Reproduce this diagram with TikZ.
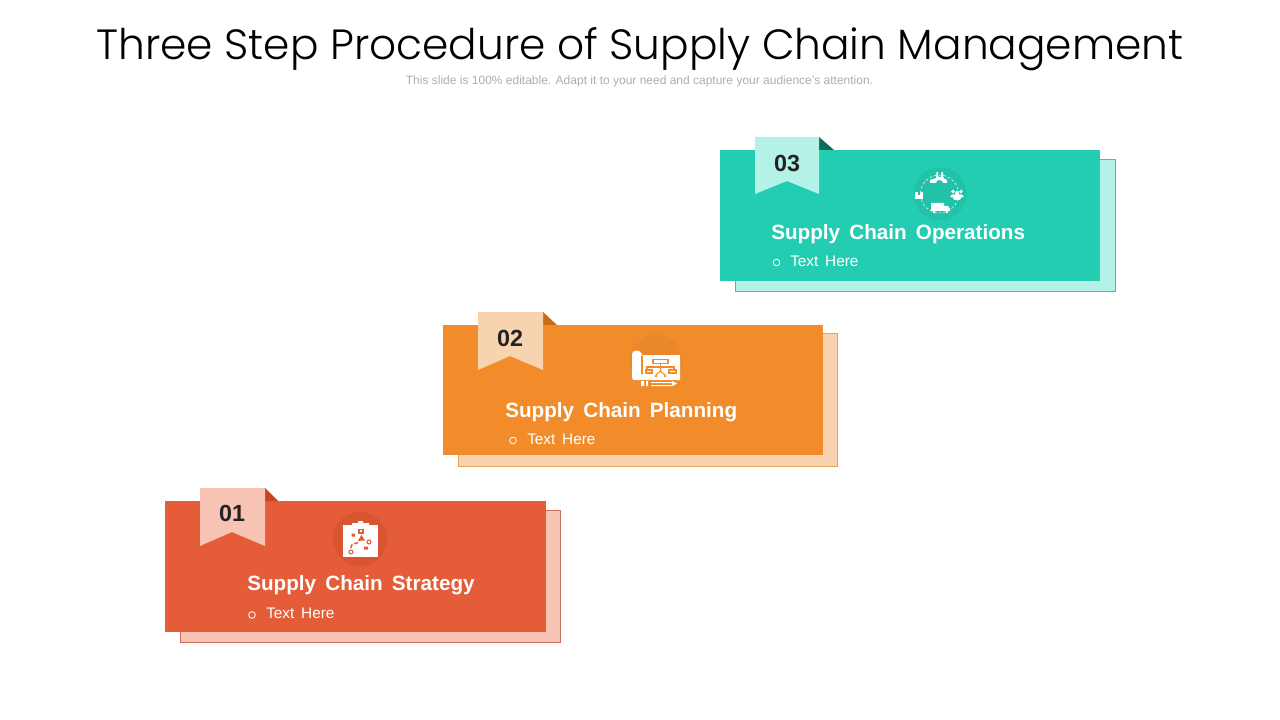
\documentclass[tikz,border=0pt]{standalone}
\usepackage{fontspec}
\setmainfont{Liberation Sans}
\newfontfamily\titlefont{Poppins Light}
\newfontfamily\cardfont[WordSpace=1.6]{Liberation Sans}
\usepackage{tikz}
\definecolor{tealmain}{HTML}{23CDB1}
\definecolor{teallight}{HTML}{B4F1E6}
\definecolor{tealdark}{HTML}{0B6B57}
\definecolor{tealedge}{HTML}{3CC4A9}
\definecolor{tealround}{HTML}{21C2A7}
\definecolor{orangemain}{HTML}{F28C2B}
\definecolor{orangelight}{HTML}{F8D3B0}
\definecolor{orangedark}{HTML}{C76F10}
\definecolor{orangeedge}{HTML}{E9A25F}
\definecolor{orangeround}{HTML}{EA872A}
\definecolor{redmain}{HTML}{E55D38}
\definecolor{redlight}{HTML}{F6C3B4}
\definecolor{reddark}{HTML}{C9431E}
\definecolor{rededge}{HTML}{C9705A}
\definecolor{redround}{HTML}{D95430}
\definecolor{numtext}{HTML}{222222}
\tikzset{
    heading/.style={inner sep=0pt, font=\titlefont\fontsize{31.7}{36}\selectfont},
    subheading/.style={inner sep=0pt, text=black!32, font=\fontsize{9}{11}\selectfont},
    cardtitle/.style={anchor=west, inner sep=0pt, text=white, font=\cardfont\bfseries\fontsize{15.5}{18}\selectfont},
    cardtext/.style={anchor=west, inner sep=0pt, text=white, font=\cardfont\fontsize{11.5}{14}\selectfont},
    cardbullet/.style={draw=white, line width=0.6pt, circle, inner sep=0pt, minimum size=5pt},
    cardnum/.style={inner sep=0pt, text=numtext, font=\bfseries\fontsize{17.5}{20}\selectfont},
    iconline/.style={line width=0.8pt, line cap=round},
}

\begin{document}
\begin{tikzpicture}[x=0.75pt, y=-0.75pt]
    \useasboundingbox (0,0) rectangle (1280,720);
    \node[heading] (title) at (640,49) {Three Step Procedure of Supply Chain Management};
    \node[subheading] (subtitle) at (639.5,81) {This slide is 100\% editable. Adapt it to your need and capture your audience’s attention.};

    % card 03
    \draw[fill=teallight, draw=tealedge, line width=0.75pt] (735.5,159.5) rectangle (1115.5,291.5);
    \fill[tealmain] (720,150) rectangle (1100,281);
    \fill[tealdark] (819,137) -- (834,150) -- (819,150) -- cycle;
    \fill[teallight] (755,137) -- (819,137) -- (819,194) -- (787,181) -- (755,194) -- cycle;
    \fill[tealround] (940,194) circle (26.5);
    \node[cardnum] (num3) at (787,163) {03};
    \node[cardtitle] (head3) at (771,234.5) {Supply Chain Operations};
    \node[cardbullet] (dot3) at (776.5,262.5) {};
    \node[cardtext] (text3) at (790,261) {Text Here};
    \draw[white, line width=0.4pt, dash pattern=on 2pt off 1.5pt] (939.5,194) circle (19);
    \fill[white] (930,183) -- (930,180) -- (936,178) -- (936.5,172) -- (938,172) -- (938.5,177) -- (941,177) -- (941.5,172) -- (943,172) -- (943.5,178) -- (947,180) -- (947,183) -- (943,183) .. controls (943,179) and (936,179) .. (936,183) -- cycle;
    \fill[white] (915,192) rectangle (923,199);
    \fill[tealround] (918,192) rectangle (920,195);
    \fill[white] (931,203) rectangle (944,211) (944,206) -- (948,206) -- (950,209) -- (950,211) -- (944,211) -- cycle;
    \fill[white] (934,212) circle (1.3) (947,212) circle (1.3);
    \fill[white] (953,191.5) circle (1.8) (961,191.5) circle (1.8) (957,193) circle (2);
    \fill[white] (950,197) -- (952,194.5) -- (962,194.5) -- (964,197) -- (961,197.5) -- (960,200) -- (954,200) -- (953,197.5) -- cycle;

    % card 02
    \draw[fill=orangelight, draw=orangeedge, line width=0.75pt] (458.5,333.5) rectangle (837.5,466.5);
    \fill[orangemain] (443,325) rectangle (823,455);
    \fill[orangedark] (543,312) -- (557,325) -- (543,325) -- cycle;
    \fill[orangelight] (478,312) -- (543,312) -- (543,370) -- (510,356) -- (478,370) -- cycle;
    \fill[orangeround] (656.5,360.5) circle (26);
    \node[cardnum] (num2) at (510,338) {02};
    \node[cardtitle] (head2) at (505,412.5) {Supply Chain Planning};
    \node[cardbullet] (dot2) at (513,440.5) {};
    \node[cardtext] (text2) at (527,439) {Text Here};
    \fill[white] (632,378) -- (632,354) .. controls (632,350) and (640,349) .. (641,353) -- (642,355) -- (680,355) -- (680,380) -- (637,380) .. controls (634,380) and (632,380) .. (632,378) -- cycle;
    \draw[orangemain, iconline] (642,356) -- (642,374);
    \draw[orangemain, iconline] (653,359.5) rectangle (668,363.5);
    \draw[orangemain, iconline] (660.5,363.5) -- (660.5,367) (647,370) -- (647,367) -- (674,367) -- (674,370);
    \draw[orangemain, iconline] (646,370) rectangle (652,373) (669,370) rectangle (676,373);
    \draw[orangemain, iconline] (660.5,367) -- (660.5,371) -- (656,375) (660.5,371) -- (665,375);
    \fill[orangemain] (656,376) circle (1.3) (665,376) circle (1.3);
    \fill[white] (641,381) rectangle (644,386) (646,381) rectangle (648,386) (651,382) rectangle (672,383) (651,385) rectangle (672,386) (672,381) -- (677,383.5) -- (672,386) -- cycle;

    % card 01
    \draw[fill=redlight, draw=rededge, line width=0.75pt] (180.5,510.5) rectangle (560.5,642.5);
    \fill[redmain] (165,501) rectangle (546,632);
    \fill[reddark] (265,488) -- (278,501) -- (265,501) -- cycle;
    \fill[redlight] (200,488) -- (265,488) -- (265,546) -- (232,532) -- (200,546) -- cycle;
    \fill[redround] (360,539) circle (27);
    \node[cardnum] (num1) at (232,513) {01};
    \node[cardtitle] (head1) at (247,585.5) {Supply Chain Strategy};
    \node[cardbullet] (dot1) at (252,615) {};
    \node[cardtext] (text1) at (266,613) {Text Here};
    \fill[white] (343,525) rectangle (378,557);
    \fill[white] (352,523) rectangle (369,525) (358,521) rectangle (363,523);
    \draw[redmain, iconline] (359,529.5) rectangle (363,533);
    \fill[redmain] (351.5,533.5) rectangle (355,536.5) (364,546.5) rectangle (368,549.5);
    \draw[redmain, iconline] (369,542) circle (2) (351,552) circle (2);
    \draw[redmain, line width=1.1pt, dash pattern=on 3pt off 1.5pt] (351,548) .. controls (351,541) and (359,545) .. (359,541) -- (361,539);
    \fill[redmain] (361.5,535) -- (365,540.5) -- (358,540.5) -- cycle;
\end{tikzpicture}
\end{document}
